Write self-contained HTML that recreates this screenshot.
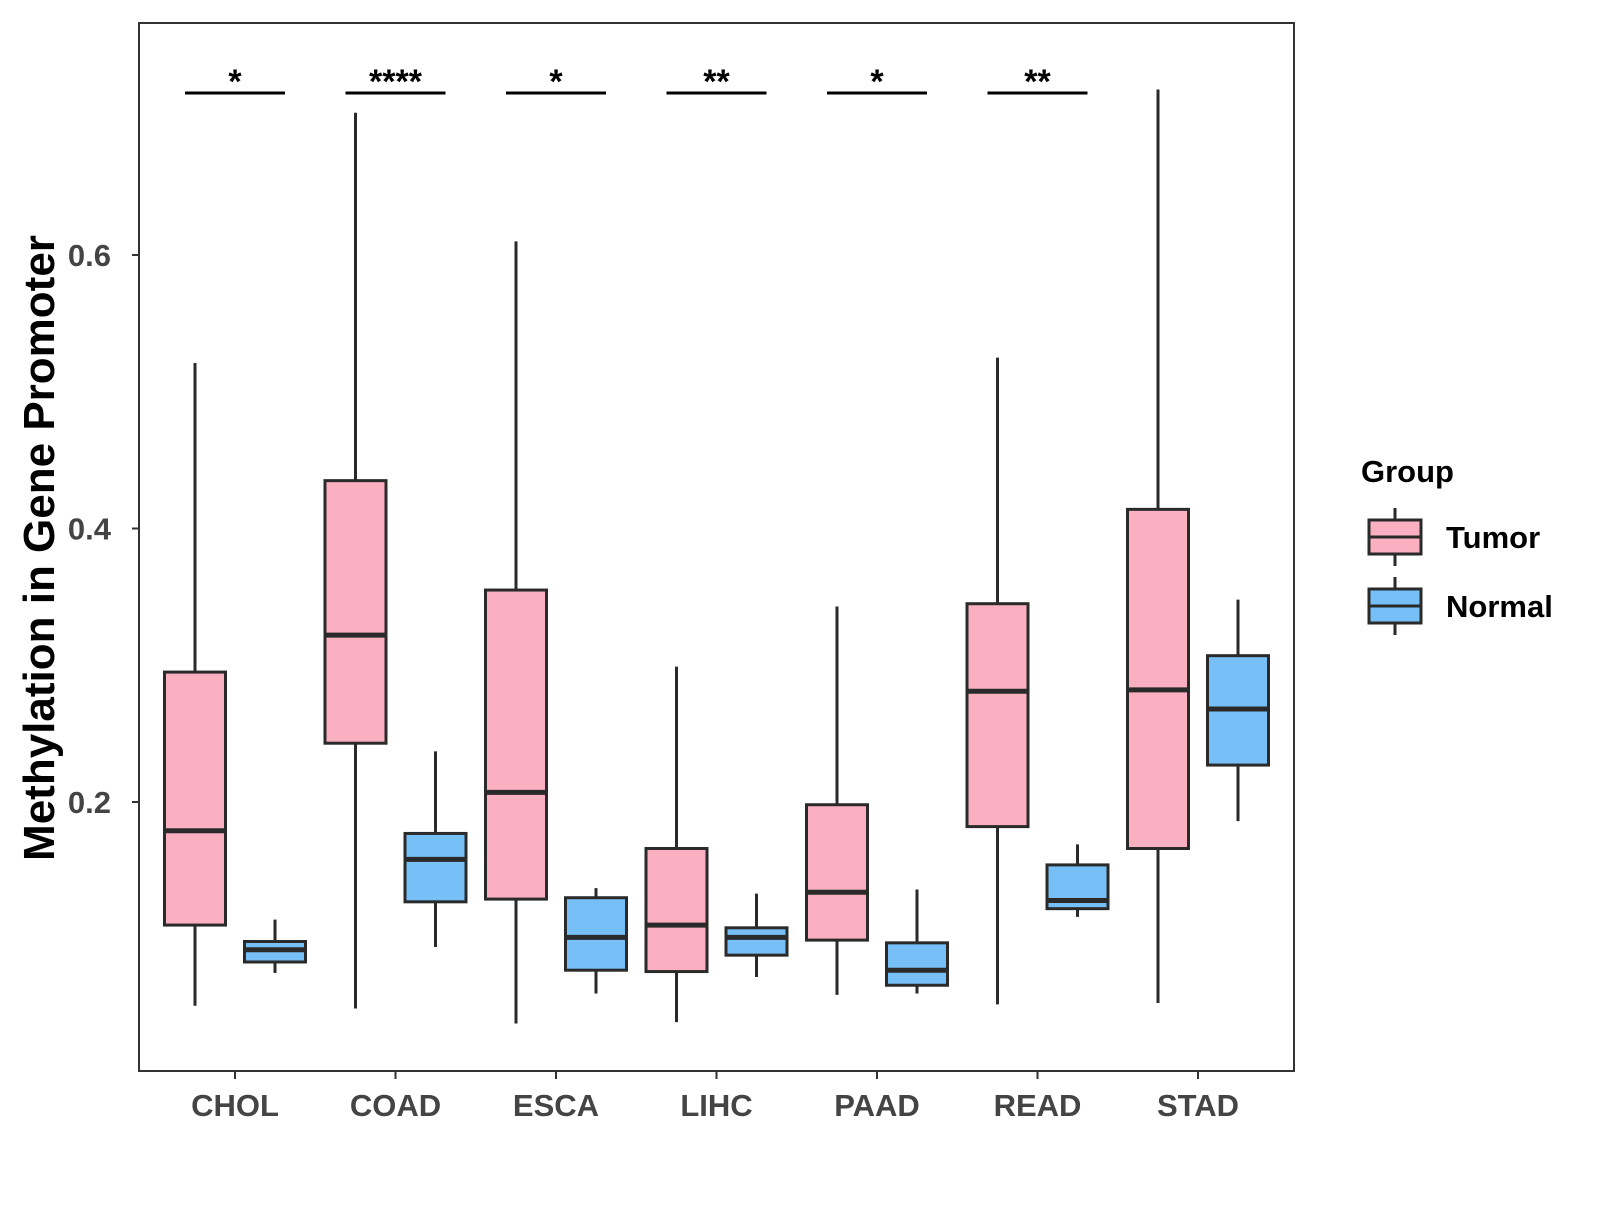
<!DOCTYPE html>
<html><head><meta charset="utf-8"><style>
body{margin:0;background:#fff}
svg text{font-family:"Liberation Sans",Arial,sans-serif;font-weight:bold}
</style></head><body>
<svg id="chart" width="1600" height="1200" xmlns="http://www.w3.org/2000/svg">
<rect width="1600" height="1200" fill="#fff"/>
<g id="plot"></g>
</svg>
<script>
const categories=["CHOL","COAD","ESCA","LIHC","PAAD","READ","STAD"];
const tumorStats=[[0.051,0.110,0.179,0.295,0.521],[0.049,0.243,0.322,0.435,0.704],[0.038,0.129,0.207,0.355,0.610],[0.039,0.076,0.110,0.166,0.299],[0.059,0.099,0.134,0.198,0.343],[0.052,0.182,0.281,0.345,0.525],[0.053,0.166,0.282,0.414,0.721]];
const normalStats=[[0.075,0.083,0.092,0.098,0.114],[0.094,0.127,0.158,0.177,0.237],[0.060,0.077,0.101,0.130,0.137],[0.072,0.088,0.101,0.108,0.133],[0.060,0.066,0.077,0.097,0.136],[0.116,0.122,0.128,0.154,0.169],[0.186,0.227,0.268,0.307,0.348]];
const sigLabels=["*","****","*","**","*","**",""];
const yTicks=[0.2,0.4,0.6];
const NS="http://www.w3.org/2000/svg";
const L=139,R=1294,T=23,B=1071;
const y=v=>255+(0.6-v)*1367.5;
const x=i=>235+i*160.5;
const g=document.getElementById('plot');
function mk(t,a,p){const e=document.createElementNS(NS,t);for(const k in a)e.setAttribute(k,a[k]);(p||g).appendChild(e);return e;}
let e=mk('rect',{x:L,y:T,width:R-L,height:B-T,fill:'none',stroke:'#333','stroke-width':2});


yTicks.forEach(v=>{
  let t=mk('line',{x1:L-7,x2:L,y1:y(v),y2:y(v),stroke:'#333','stroke-width':2});
  
  
  let l=mk('text',{x:L-28,y:y(v)+11,'text-anchor':'end','font-size':31,fill:'#444'});
  l.textContent=v.toFixed(1);
  
  
});
function box(s,cx,fill,nm){
  const w=61;
  let wl=mk('line',{x1:cx,x2:cx,y1:y(s[4]),y2:y(s[0]),stroke:'#2a2a2a','stroke-width':3});
  
  
  let r=mk('rect',{x:cx-w/2,y:y(s[3]),width:w,height:y(s[1])-y(s[3]),fill:fill,stroke:'#2a2a2a','stroke-width':3});
  
  
  let m=mk('line',{x1:cx-w/2,x2:cx+w/2,y1:y(s[2]),y2:y(s[2]),stroke:'#2a2a2a','stroke-width':5});
  
  
}
categories.forEach((c,i)=>{
  box(tumorStats[i],x(i)-40,'#fbb0c1',c.toLowerCase()+'-tumor');
  box(normalStats[i],x(i)+40,'#76c0f7',c.toLowerCase()+'-normal');
  let t=mk('line',{x1:x(i),x2:x(i),y1:B,y2:B+8,stroke:'#333','stroke-width':2});
  
  
  let l=mk('text',{x:x(i),y:B+45,'text-anchor':'middle','font-size':31,fill:'#444'});
  l.textContent=c;
  
  
  if(sigLabels[i]){
    let b=mk('line',{x1:x(i)-50,x2:x(i)+50,y1:93,y2:93,stroke:'#000','stroke-width':3});
    
    
    let s=mk('text',{x:x(i),y:93,'text-anchor':'middle','font-size':34,fill:'#000'});
    s.textContent=sigLabels[i];
    
    
  }
});
let yt=mk('text',{x:0,y:0,transform:'translate(54,548) rotate(-90)','text-anchor':'middle','font-size':44,fill:'#000'});
yt.textContent='Methylation in Gene Promoter';


let lt=mk('text',{x:1361,y:482,'font-size':31,fill:'#000'});
lt.textContent='Group';


[['Tumor','#fbb0c1',537],['Normal','#76c0f7',606]].forEach(([n,f,cy])=>{
  let k=mk('line',{x1:1395,x2:1395,y1:cy-29,y2:cy+29,stroke:'#2a2a2a','stroke-width':3});
  
  
  let r=mk('rect',{x:1369,y:cy-17,width:52,height:34,fill:f,stroke:'#2a2a2a','stroke-width':3});
  
  
  let m=mk('line',{x1:1369,x2:1421,y1:cy,y2:cy,stroke:'#2a2a2a','stroke-width':3});
  
  
  let t=mk('text',{x:1446,y:cy+11,'font-size':31,fill:'#000'});
  t.textContent=n;
  
  
});
</script>
</body></html>
